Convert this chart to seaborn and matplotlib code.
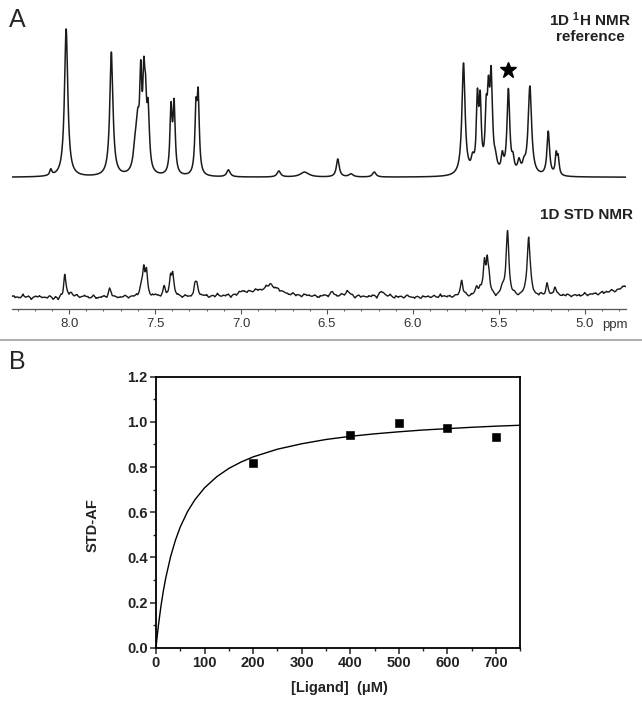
import numpy as np
import pandas as pd
import matplotlib
matplotlib.use("Agg")
import matplotlib.pyplot as plt
from matplotlib.lines import Line2D
import seaborn as sns

### spectrum peak tables (ppm, height in px above baseline, half width in ppm)

ref_ppm = [8.106, 8.017, 7.754, 7.614, 7.600, 7.583, 7.565, 7.555, 7.540,
           7.407, 7.389, 7.262, 7.249, 7.073, 6.780, 6.630, 6.437, 6.360, 6.225,
           5.706, 5.653, 5.625, 5.609, 5.574, 5.561, 5.545, 5.520, 5.480, 5.445,
           5.418, 5.383, 5.354, 5.320, 5.213, 5.167, 5.155]
ref_height = [6, 148, 124, 26, 36, 86, 80, 50, 58,
              64, 68, 60, 74, 7, 6, 5, 18, 3, 5,
              112, 12, 70, 66, 52, 62, 92, 10, 16, 84,
              12, 12, 8, 89, 44, 20, 17]
ref_width = [0.007, 0.0115, 0.011, 0.014, 0.010, 0.0075, 0.0075, 0.007, 0.0085,
             0.0075, 0.0075, 0.0075, 0.0075, 0.012, 0.012, 0.030, 0.010, 0.015, 0.012,
             0.011, 0.010, 0.0075, 0.0075, 0.0075, 0.0075, 0.009, 0.010, 0.008, 0.0095,
             0.008, 0.010, 0.010, 0.012, 0.009, 0.0065, 0.0065]

std_ppm = [8.025, 7.990, 7.764, 7.580, 7.565, 7.550, 7.447, 7.410, 7.397,
           7.268, 7.256, 6.860, 6.990, 6.830, 6.780, 6.470, 6.380, 6.180, 5.840,
           5.717, 5.630, 5.610, 5.584, 5.568, 5.557, 5.480, 5.450, 5.327, 5.220,
           5.174, 4.700]
std_height = [23, 4, 8, 9, 24, 23, 9, 18, 20,
              10, 11, 8, 3, 6, 3, 4, 5, 5, 3,
              17, 8, 7, 31, 31, 14, 7, 65, 59, 12,
              10, 12]
std_width = [0.008, 0.010, 0.009, 0.012, 0.0075, 0.0075, 0.008, 0.0075, 0.0075,
             0.008, 0.008, 0.120, 0.012, 0.015, 0.012, 0.015, 0.020, 0.020, 0.005,
             0.009, 0.010, 0.009, 0.0075, 0.0075, 0.007, 0.010, 0.0095, 0.0105, 0.008,
             0.008, 0.150]

# baseline wiggle of the STD trace, px, read left (8.32 ppm) to right (4.77 ppm)
std_noise = [1.0, -0.5, 1.2, 0.3, -0.8, 1.0, 0.2, -0.6, 0.8, -1.2, -2.0, -1.5,
             0.5, -0.4, 1.0, 0.0, 1.5, -0.8, 0.6, -0.9, 0.4, -1.3, 0.7, -0.2,
             -1.0, 0.8, -0.5, 0.3, -1.1, 0.9, 0.1, -0.7, 1.2, -0.3, 0.6, -0.9,
             0.4, 1.0, -0.6, 0.2, -1.0, 0.7, -0.4, 0.9, -0.8, 0.3, 1.1, -0.5,
             0.6, -1.2, 0.2, 0.8, -0.6, 1.0, -0.3, 0.5, -0.9, 0.7, -0.2, 1.2,
             -0.7, 0.4, -1.0, 0.6, 0.1, -0.8, 0.9, -0.4, 0.3, -1.1, 0.8, -0.2,
             0.5, -0.9, 1.0, -0.5, 0.2, -1.2, 0.7, 0.0, -0.6, 0.9, -1.0, 0.4,
             -0.3, 0.8, -1.1, 0.5, -0.4, 1.0, -0.7, 0.2, -0.9, 0.6, -0.2, 0.9,
             -1.2, 0.3, 0.7, -0.6, 0.4, -1.0, 0.8, -0.3, 0.5, -0.8, 1.1, -0.4,
             0.6, -0.9, 0.2, 0.9, -0.7, 0.4, -1.0, 0.7, -0.2, 0.8, -0.6, 1.0,
             -0.5, 0.3, -0.9, 0.7, -0.3, 1.0, -0.6, 0.5, -1.0, 0.8, -0.2, 0.6,
             -0.8, 1.1, -0.4, 0.7, -0.9, 0.3, 1.0]
# finer ripple on top, px, same direction
std_ripple = [0.6, -0.8, 0.4, -0.5, 0.9, -0.3, 0.7, -0.9, 0.2, -0.6, 0.8, -0.4,
              0.5, -0.7, 0.3, -0.9, 0.6, -0.2, 0.8, -0.5, 0.4, -0.8, 0.7, -0.3,
              0.9, -0.6, 0.2, -0.7, 0.5, -0.4, 0.8, -0.9, 0.3, -0.5, 0.6, -0.2,
              0.7, -0.8, 0.4, -0.6, 0.9, -0.3, 0.5, -0.7, 0.2, -0.5, 0.8, -0.6,
              0.3, -0.9, 0.6, -0.4, 0.7, -0.2, 0.5, -0.8, 0.4, -0.6, 0.9, -0.3,
              0.6, -0.7, 0.2, -0.5, 0.8, -0.4, 0.3, -0.9, 0.7, -0.2, 0.5, -0.6,
              0.9, -0.4, 0.2, -0.8, 0.6, -0.3, 0.4, -0.7, 0.8, -0.5, 0.3, -0.9,
              0.6, -0.2, 0.7, -0.6, 0.5, -0.4, 0.9, -0.7, 0.2, -0.3, 0.8, -0.8,
              0.4, -0.5, 0.6, -0.9, 0.3, -0.2, 0.7, -0.6, 0.5, -0.8, 0.2, -0.4,
              0.9, -0.5, 0.6, -0.3, 0.4, -0.7, 0.8, -0.2, 0.3, -0.9, 0.5, -0.6,
              0.7, -0.4, 0.2, -0.8, 0.9, -0.3, 0.6, -0.5, 0.4, -0.7, 0.3, -0.2,
              0.8, -0.6, 0.5, -0.9, 0.7, -0.4, 0.2, -0.5, 0.6, -0.3, 0.9, -0.8,
              0.4, -0.6, 0.7, -0.2, 0.5, -0.9, 0.3, -0.4, 0.8, -0.7, 0.6, -0.5,
              0.2, -0.3, 0.9, -0.6, 0.4, -0.8, 0.7, -0.2, 0.5, -0.4, 0.3, -0.9,
              0.6, -0.5, 0.8, -0.3, 0.2, -0.7, 0.9, -0.4, 0.5, -0.6, 0.7, -0.8,
              0.3, -0.2, 0.6, -0.9, 0.4, -0.5, 0.8, -0.3, 0.2, -0.7, 0.5, -0.4,
              0.9, -0.6, 0.3, -0.8, 0.7, -0.2, 0.4, -0.5, 0.6, -0.9, 0.2, -0.3,
              0.8, -0.7, 0.5, -0.4, 0.3, -0.6, 0.9, -0.2, 0.7, -0.8, 0.4, -0.5,
              0.6, -0.3, 0.2, -0.9, 0.8, -0.4, 0.5, -0.7, 0.3, -0.6, 0.9, -0.2]

### binding data

ligand = [200, 400, 500, 600, 700]
std_af = [0.817, 0.942, 0.994, 0.972, 0.934]

fit_x = [0, 2, 5, 10, 15, 20, 30, 40, 50, 65, 80, 100, 125, 150, 175, 200,
         250, 300, 350, 400, 450, 500, 550, 600, 650, 700, 750]
fit_y = [0.0, 0.042, 0.099, 0.181, 0.250, 0.308, 0.403, 0.476, 0.535, 0.603,
         0.655, 0.708, 0.757, 0.794, 0.822, 0.845, 0.879, 0.903, 0.922, 0.936,
         0.947, 0.956, 0.964, 0.970, 0.976, 0.981, 0.985]


def spectrum(ppm, centers, heights, widths):
    out = np.zeros_like(ppm)
    for c, h, w in zip(centers, heights, widths):
        out += h / (1 + ((ppm - c) / w) ** 2)
    return out


sns.set_style("ticks")
plt.rcParams['font.family'] = ['Liberation Sans', 'DejaVu Sans']
plt.rcParams['mathtext.fontset'] = 'custom'
plt.rcParams['mathtext.bf'] = 'Liberation Sans:bold'
plt.rcParams['mathtext.rm'] = 'Liberation Sans'

W, H = 642, 706
fig = plt.figure(figsize=(W / 100, H / 100), dpi=100)

### panel A

axA = fig.add_axes([12 / W, 1 - 309.3 / H, 614 / W, 309.3 / H])
ppm = np.linspace(4.761, 8.332, 7000)
ref = 132 + spectrum(ppm, ref_ppm, ref_height, ref_width)
std = 12 + spectrum(ppm, std_ppm, std_height, std_width)
noise_pos = np.linspace(8.32, 4.77, len(std_noise))
std = std + spectrum(ppm, noise_pos, [1.5 * v for v in std_noise],
                     [0.006] * len(std_noise))
ripple_pos = np.linspace(8.33, 4.765, len(std_ripple))
std = std + spectrum(ppm, ripple_pos, [1.6 * v for v in std_ripple],
                     [0.003] * len(std_ripple))

df = pd.DataFrame({'ppm': ppm, 'ref': ref, 'std': std})
sns.lineplot(data=df, x='ppm', y='ref', ax=axA, color='#1a1a1a', lw=1.1,
             estimator=None, sort=False)
sns.lineplot(data=df, x='ppm', y='std', ax=axA, color='#1a1a1a', lw=1.0,
             estimator=None, sort=False)
axA.plot([5.447], [239], marker='*', color='black', ms=12, mec='black')

axA.set_xlim(8.332, 4.761)
axA.set_ylim(0, 309.3)
axA.set_xlabel('')
axA.set_ylabel('')
axA.set_yticks([])
for s in ['top', 'right', 'left']:
    axA.spines[s].set_visible(False)
axA.spines['bottom'].set_color('#555555')
axA.spines['bottom'].set_linewidth(0.9)
axA.set_xticks([8.0, 7.5, 7.0, 6.5, 6.0, 5.5, 5.0])
axA.set_xticklabels(['8.0', '7.5', '7.0', '6.5', '6.0', '5.5', '5.0'])
axA.set_xticks(np.arange(4.8, 8.31, 0.1).round(1), minor=True)
axA.tick_params(axis='x', which='major', length=3.5, width=0.8, color='#555555',
                labelsize=9.5, labelcolor='#333333', pad=3)
axA.tick_params(axis='x', which='minor', length=1.7, width=0.7, color='#555555')
axA.patch.set_alpha(0)

fig.text(615.3 / W, 1 - 325 / H, 'ppm', fontsize=9.5, color='#333333',
         ha='center', va='center')
fig.text(590 / W, 1 - 27 / H, '1D $\\mathbf{^{1}}$H NMR\nreference',
         fontsize=11, fontweight='bold', ha='center', va='center',
         color='#222222', linespacing=1.05)
fig.text(633 / W, 1 - 215 / H, '1D STD NMR', fontsize=11, fontweight='bold',
         ha='right', va='center', color='#222222')
fig.text(17.5 / W, 1 - 20 / H, 'A', fontsize=18, ha='center', va='center')
fig.text(17.5 / W, 1 - 362 / H, 'B', fontsize=18, ha='center', va='center')

fig.add_artist(Line2D([0, 1], [1 - 340 / H, 1 - 340 / H],
                      transform=fig.transFigure, color='#b0b0b0', lw=1.5))

### panel B

axB = fig.add_axes([156 / W, 1 - 647.7 / H, 364.3 / W, 271 / H])
sns.lineplot(x=fit_x, y=fit_y, ax=axB, color='black', lw=1.0,
             estimator=None, sort=False)
sns.scatterplot(x=ligand, y=std_af, ax=axB, marker='s', color='black', s=30,
                edgecolor='black', zorder=3)
axB.set_xlim(0, 750)
axB.set_ylim(0, 1.2)
axB.set_xticks([0, 100, 200, 300, 400, 500, 600, 700])
axB.set_xticks([50, 150, 250, 350, 450, 550, 650, 750], minor=True)
axB.set_yticks([0.0, 0.2, 0.4, 0.6, 0.8, 1.0, 1.2])
axB.set_yticklabels(['0.0', '0.2', '0.4', '0.6', '0.8', '1.0', '1.2'])
axB.set_yticks(np.arange(0.1, 1.2, 0.1), minor=True)
for s in axB.spines.values():
    s.set_linewidth(1.3)
    s.set_color('black')
axB.tick_params(which='major', length=4, width=1.1, direction='out', pad=2,
                labelsize=10.5, labelcolor='#222222')
axB.tick_params(which='minor', length=2.5, width=1.0, direction='out')
for lab in axB.get_xticklabels() + axB.get_yticklabels():
    lab.set_fontweight('bold')
axB.set_xlabel('')
axB.set_ylabel('')
fig.text(92.7 / W, 1 - 525 / H, 'STD-AF', fontsize=10.5, fontweight='bold',
         rotation=90, ha='center', va='center', color='#222222')
fig.text(339 / W, 1 - 688 / H, '[Ligand]  (\u03bcM)', fontsize=10.5,
         fontweight='bold', ha='center', va='center', color='#222222')

fig.savefig('out.png', dpi=100)
